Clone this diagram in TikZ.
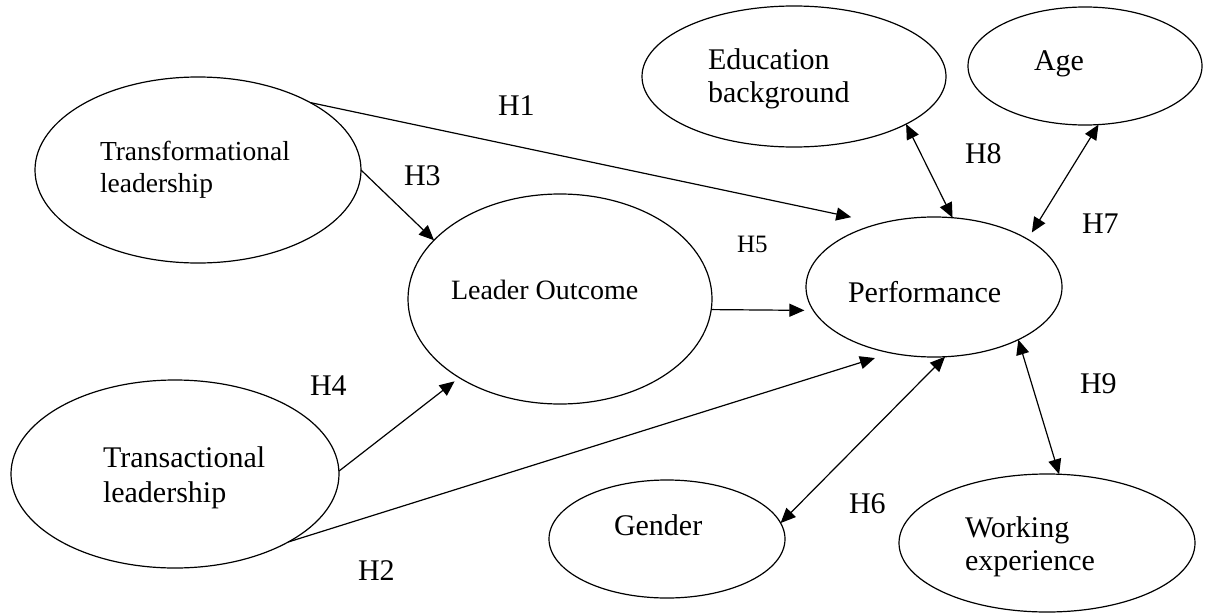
\documentclass[tikz,border=0pt]{standalone}
\usepackage{fontspec}
\setmainfont{Liberation Serif}
\usetikzlibrary{arrows.meta,shapes.geometric}
\begin{document}
\begin{tikzpicture}[x=1pt,y=-1pt,
  ell/.style={draw, ellipse, line width=1.2pt, inner sep=0pt, outer sep=0pt},
  txt/.style={inner sep=0pt, outer sep=0pt, align=left},
  hlab/.style={inner sep=0pt, outer sep=0pt, anchor=base west, font=\fontsize{30}{34}\selectfont},
  conn/.style={line width=1.2pt, -{Triangle[length=15pt,width=13pt]}},
  biconn/.style={line width=1.2pt, {Triangle[length=15pt,width=13pt]}-{Triangle[length=15pt,width=13pt]}}]
\useasboundingbox (0,0) rectangle (1207,613);
% ellipses
\node[ell, minimum width=326pt, minimum height=186pt] (tf) at (198,170) {};
\node[ell, minimum width=328pt, minimum height=188pt] (ta) at (175,474) {};
\node[ell, minimum width=304pt, minimum height=210pt] (lo) at (560,299) {};
\node[ell, minimum width=256pt, minimum height=140pt] (pf) at (934,287) {};
\node[ell, minimum width=304pt, minimum height=141pt] (ed) at (794,76.5) {};
\node[ell, minimum width=234pt, minimum height=118pt] (ag) at (1085,66) {};
\node[ell, minimum width=236pt, minimum height=118pt] (gd) at (667,539) {};
\node[ell, minimum width=296pt, minimum height=138pt] (we) at (1047,543) {};
% texts
\node[txt, anchor=north west, font=\fontsize{27.5}{32}\selectfont] (tftext) at (100,141.2) {Transformational\\leadership};
\node[txt, anchor=north west, font=\fontsize{30}{35}\selectfont] (tatext) at (103,446.5) {Transactional\\leadership};
\node[txt, anchor=north west, font=\fontsize{30}{33}\selectfont] (edtext) at (708,48.5) {Education\\background};
\node[txt, anchor=north west, font=\fontsize{30}{33}\selectfont] (wetext) at (965,516.5) {Working\\experience};
\node[txt, anchor=base west, font=\fontsize{28}{32}\selectfont] (lotext) at (451,299) {Leader Outcome};
\node[txt, anchor=base west, font=\fontsize{30}{34}\selectfont] (pftext) at (848,302) {Performance};
\node[txt, anchor=base west, font=\fontsize{30}{34}\selectfont] (agtext) at (1034,70) {Age};
\node[txt, anchor=base west, font=\fontsize{30}{34}\selectfont] (gdtext) at (614,535) {Gender};
% hypothesis labels
\node[hlab] (h1) at (498,115) {H1};
\node[hlab] (h3) at (404,185) {H3};
\node[hlab] (h4) at (310,395) {H4};
\node[hlab] (h2) at (358,580) {H2};
\node[hlab, font=\fontsize{25}{28}\selectfont] (h5) at (737,252) {H5};
\node[hlab] (h8) at (965,163) {H8};
\node[hlab] (h7) at (1082,233) {H7};
\node[hlab] (h9) at (1080,393) {H9};
\node[hlab] (h6) at (849,513) {H6};
% connectors
\draw[conn, shorten >=30pt] (tf.31) -- (pf.130);
\draw[conn] (tf.0) -- (lo.155);
\draw[conn, shorten >=6pt] (ta.1) -- (lo.218);
\draw[conn, shorten >=17pt] (ta.-31) -- (pf.237);
\draw[conn, shorten >=9pt] (lo.-4) -- (pf.191);
\draw[biconn] (ed.-23) -- (pf.75);
\draw[biconn, shorten <=8pt] (pf.27) -- (ag.-77);
\draw[biconn] (pf.-81) -- (gd.8);
\draw[biconn] (pf.-32) -- (we.80);
\end{tikzpicture}
\end{document}
